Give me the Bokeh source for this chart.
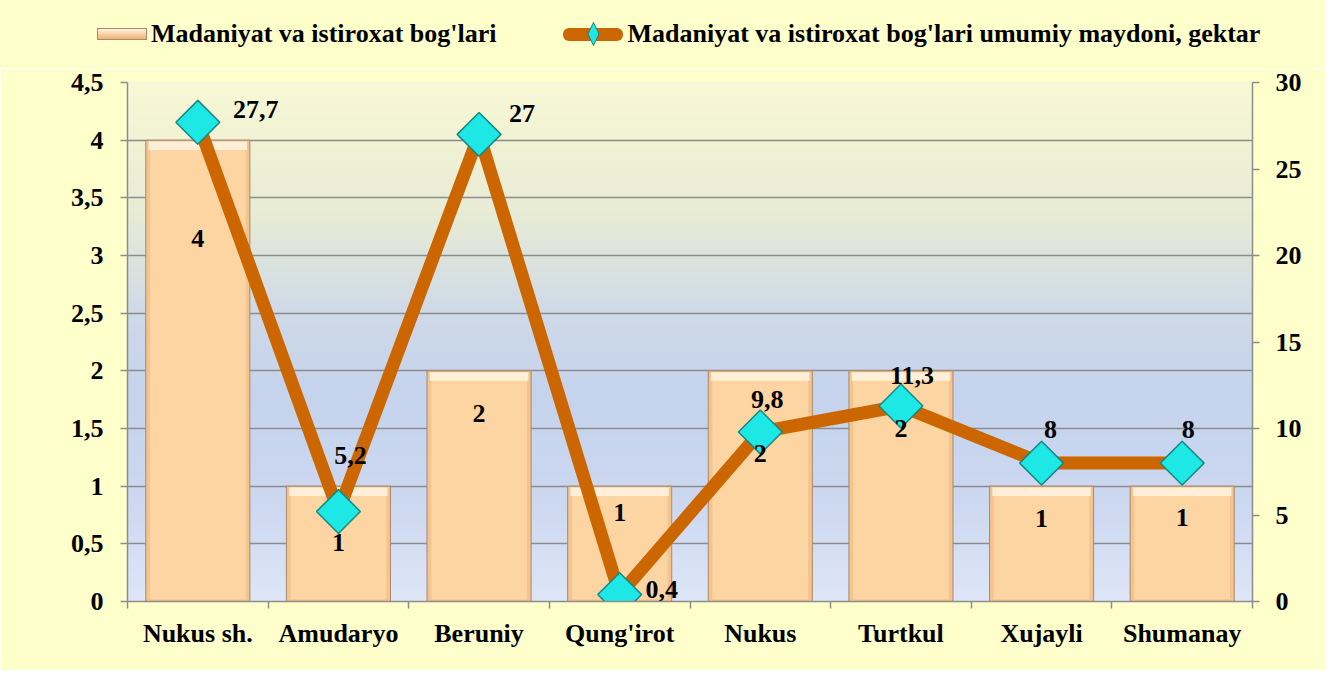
import numpy as np
from bokeh.plotting import figure
from bokeh.layouts import column
from bokeh.models import Range1d, LinearAxis, FixedTicker, ColumnDataSource, Div
from bokeh.core.properties import value
from bokeh.embed import file_html
from bokeh.resources import INLINE

# ---------------- data ----------------
categories = ["Nukus sh.", "Amudaryo", "Beruniy", "Qung'irot", "Nukus",
              "Turtkul", "Xujayli", "Shumanay"]
gardens = [4, 1, 2, 1, 2, 2, 1, 1]                      # left axis (bars)
area = [27.7, 5.2, 27, 0.4, 9.8, 11.3, 8, 8]            # right axis (line)
left_ticks = [0, 0.5, 1, 1.5, 2, 2.5, 3, 3.5, 4, 4.5]
left_tick_labels = ["0", "0,5", "1", "1,5", "2", "2,5", "3", "3,5", "4", "4,5"]
right_ticks = [0, 5, 10, 15, 20, 25, 30]
bar_series_name = "Madaniyat va istiroxat bog'lari"
line_series_name = "Madaniyat va istiroxat bog'lari umumiy maydoni, gektar"

# ---------------- label placement (screen px, style only) ----------------
bar_label_dy = [98, 56, 43, 26, 83, 58, 32, 31]
area_label_dx = [58, 12, 43, 42, 7, 11, 9, 6]
area_label_dy = [-13, -56, -21, -5, -32, -31, -34, -34]

FONT = "Liberation Serif"
FS = "26px"
BG = "#FFFFCC"
BAR_FILL = "#F4C48E"
BAR_LINE = "#A8896A"
LINE_C = "#CC6600"
MK_FILL = "#1EE8E6"
MK_LINE = "#17877F"

W = 1325
LEG_H = 68
H = 670 - LEG_H
xs = list(range(len(categories)))

p = figure(width=W, height=H, x_range=Range1d(-0.5, len(categories) - 0.5),
           y_range=Range1d(0, 4.5), output_backend="svg", toolbar_location=None,
           min_border_left=127, min_border_right=73, min_border_top=14,
           min_border_bottom=69)
p.extra_y_ranges = {"right": Range1d(0, 30)}
p.border_fill_color = BG
p.background_fill_color = "#DDE5F5"
p.outline_line_color = None

# plot-area vertical gradient
stops_t = [0.0, 0.25, 0.45, 0.6, 0.8, 1.0]
stops_c = np.array([(248, 248, 212), (232, 236, 214), (206, 217, 232),
                    (197, 211, 237), (204, 216, 240), (222, 230, 247)], float)
N = 300
img = np.empty((N, 1), dtype=np.uint32)
view = img.view(dtype=np.uint8).reshape((N, 1, 4))
for i in range(N):
    t = 1 - i / (N - 1)
    for k in range(3):
        view[i, 0, k] = int(np.interp(t, stops_t, stops_c[:, k]))
    view[i, 0, 3] = 255
p.image_rgba(image=[img], x=-0.5, y=0, dw=len(categories), dh=4.5, level="image")

# bars with a simple bevel look
src = ColumnDataSource(dict(x=xs, top=gardens, cat=categories,
                            txt=[str(v) for v in gardens], dy=bar_label_dy))
p.vbar(x="x", top="top", width=0.74, source=src, fill_color=BAR_FILL,
       line_color=BAR_LINE, line_width=1)
inner_top = [g - 0.06 for g in gardens]
p.vbar(x=xs, top=inner_top, bottom=0.02, width=0.68, fill_color="#FDD5A3",
       line_color=None)
hl_bottom = [g - 0.085 for g in gardens]
p.vbar(x=xs, top=[g - 0.012 for g in gardens], bottom=hl_bottom, width=0.70,
       fill_color="#FFEFD9", line_color=None)

# grid and axes
p.xgrid.visible = False
p.ygrid.ticker = FixedTicker(ticks=left_ticks)
p.ygrid.grid_line_color = "#8C8C8C"
p.ygrid.grid_line_width = 1.5

p.xaxis.ticker = FixedTicker(ticks=xs, minor_ticks=[x - 0.5 for x in xs] + [xs[-1] + 0.5])
p.xaxis.major_label_overrides = {i: c for i, c in enumerate(categories)}
p.xaxis.minor_tick_in = 0
p.xaxis.minor_tick_out = 7
p.xaxis.minor_tick_line_color = "#8C8C8C"
p.xaxis.minor_tick_line_width = 1.5
p.xaxis.major_label_standoff = 10

p.yaxis.ticker = FixedTicker(ticks=left_ticks)
p.yaxis.major_label_overrides = {t: l for t, l in zip(left_ticks, left_tick_labels)}
p.yaxis.minor_tick_line_color = None
p.yaxis.major_tick_in = 0
p.yaxis.major_tick_out = 7
p.yaxis.major_label_standoff = 17

raxis = LinearAxis(y_range_name="right", ticker=FixedTicker(ticks=right_ticks))
raxis.minor_tick_line_color = None
raxis.major_tick_in = 0
raxis.major_tick_out = 7
raxis.major_label_standoff = 16
p.add_layout(raxis, "right")

for ax in [p.xaxis[0], p.yaxis[0], raxis]:
    ax.axis_line_color = "#8C8C8C"
    ax.axis_line_width = 1.5
    ax.major_tick_line_color = "#8C8C8C"
    ax.major_tick_line_width = 1.5
    ax.major_label_text_font = FONT
    ax.major_label_text_font_style = "bold"
    ax.major_label_text_font_size = FS
    ax.major_label_text_color = "black"
p.xaxis.major_tick_line_color = None

# line + diamond markers (right axis)
lsrc = ColumnDataSource(dict(x=xs, y=area,
                             txt=[f"{v:g}".replace(".", ",") for v in area],
                             dx=area_label_dx, dy=area_label_dy))
p.line("x", "y", source=lsrc, y_range_name="right", line_width=13,
       line_color=LINE_C)
p.scatter("x", "y", source=lsrc, y_range_name="right", marker="square",
          size=31, angle=np.pi / 4, fill_color=MK_FILL,
          line_color=MK_LINE, line_width=1.5)

# labels
p.text(x="x", y="top", text="txt", source=src, y_offset="dy",
       text_font=value(FONT), text_font_style="bold", text_font_size=FS,
       text_align="center", text_baseline="middle", text_color="black")
p.text(x="x", y="y", text="txt", source=lsrc, y_range_name="right",
       x_offset="dx", y_offset="dy",
       text_font=value(FONT), text_font_style="bold", text_font_size=FS,
       text_align="center", text_baseline="middle", text_color="black")

# ---------------- legend strip above the chart ----------------
bar_swatch = ('<span style="display:inline-block;width:50px;height:12px;'
              'background:linear-gradient(#FFF3E2,#F6C590 70%,#E9B47C);'
              f'border:1px solid {BAR_LINE};margin-right:4px"></span>')
line_swatch = (f'<span style="position:relative;display:inline-block;width:60px;'
               f'height:13px;background:{LINE_C};border-radius:6px;margin-right:4px">'
               f'<span style="position:absolute;left:24px;top:-6px;width:12px;height:25px;'
               f'background:{MK_LINE};clip-path:polygon(50% 0,100% 50%,50% 100%,0 50%)">'
               f'</span><span style="position:absolute;left:25px;top:-4px;width:10px;'
               f'height:21px;background:{MK_FILL};'
               f'clip-path:polygon(50% 0,100% 50%,50% 100%,0 50%)"></span></span>')
legend_html = (
    f'<div style="display:flex;align-items:center;height:{LEG_H}px;width:{W}px;'
    f'padding-left:97px;box-sizing:border-box;background:{BG};'
    f"font-family:'{FONT}',serif;font-weight:bold;font-size:{FS};color:black;"
    f'white-space:nowrap">'
    f'{bar_swatch}<span>{bar_series_name}</span>'
    f'<span style="display:inline-block;width:67px"></span>'
    f'{line_swatch}<span>{line_series_name}</span></div>'
)
legend_div = Div(text=legend_html, width=W, height=LEG_H,
                 styles={"background-color": BG, "margin": "0"})

layout = column(legend_div, p, spacing=0)
open("out.html", "w").write(file_html(layout, INLINE))
